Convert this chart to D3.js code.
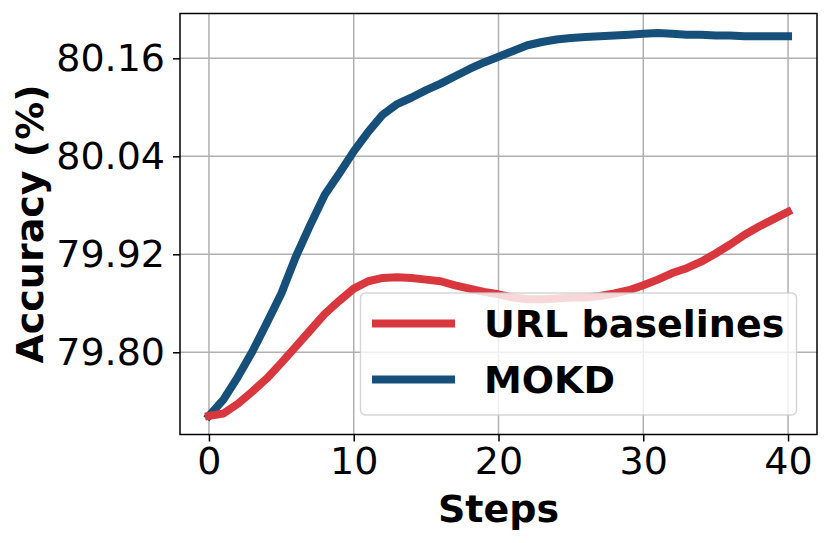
<!DOCTYPE html>
<html>
<head>
<meta charset="utf-8">
<script src="https://cdn.jsdelivr.net/npm/d3@7"></script>
<style>
  body { margin: 0; background: #fff; }
  text { font-family: "DejaVu Sans", sans-serif; }
</style>
</head>
<body>
<svg id="chart"></svg>
<script>
const steps = d3.range(0, 41);
const urlAcc = [
  79.722, 79.725, 79.737, 79.752, 79.768, 79.787, 79.807, 79.827, 79.847, 79.863,
  79.878, 79.887, 79.891, 79.892, 79.891, 79.889, 79.887, 79.882, 79.878, 79.874,
  79.871, 79.867, 79.865, 79.865, 79.866, 79.867, 79.867, 79.869, 79.872, 79.876,
  79.882, 79.889, 79.897, 79.903, 79.911, 79.921, 79.932, 79.944, 79.954, 79.963,
  79.972
];
const mokdAcc = [
  79.722, 79.742, 79.770, 79.801, 79.836, 79.872, 79.917, 79.956, 79.993, 80.019,
  80.046, 80.070, 80.091, 80.104, 80.112, 80.121, 80.129, 80.138, 80.147, 80.155,
  80.162, 80.169, 80.176, 80.180, 80.183, 80.185, 80.186, 80.187, 80.188, 80.189,
  80.190, 80.191, 80.190, 80.189, 80.189, 80.188, 80.188, 80.187, 80.187, 80.187,
  80.187
];
const xTicks = [0, 10, 20, 30, 40];
const yTicks = [79.80, 79.92, 80.04, 80.16];

const W = 830, H = 543;
const plotL = 180, plotR = 817, plotT = 13.5, plotB = 434.5;

const svg = d3.select("#chart").attr("width", W).attr("height", H);

const x = d3.scaleLinear().domain([-2, 42]).range([plotL, plotR]);
const y = d3.scaleLinear().domain([79.6993, 80.2149]).range([plotB, plotT]);

// grid
svg.append("g")
  .selectAll("line")
  .data(xTicks)
  .enter().append("line")
    .attr("x1", d => x(d)).attr("x2", d => x(d))
    .attr("y1", plotT).attr("y2", plotB)
    .attr("stroke", "#b0b0b0").attr("stroke-width", 1.5);
svg.append("g")
  .selectAll("line")
  .data(yTicks)
  .enter().append("line")
    .attr("x1", plotL).attr("x2", plotR)
    .attr("y1", d => y(d)).attr("y2", d => y(d))
    .attr("stroke", "#b0b0b0").attr("stroke-width", 1.5);

// axes
const xAxis = svg.append("g")
  .attr("transform", `translate(0,${plotB})`)
  .call(d3.axisBottom(x).tickValues(xTicks).tickSize(7).tickPadding(6).tickFormat(d3.format("d")));
const yAxis = svg.append("g")
  .attr("transform", `translate(${plotL},0)`)
  .call(d3.axisLeft(y).tickValues(yTicks).tickSize(7).tickPadding(8).tickFormat(d3.format(".2f")));

[xAxis, yAxis].forEach(g => {
  g.select(".domain").remove();
  g.selectAll(".tick line").attr("stroke", "#000").attr("stroke-width", 1.5);
  g.selectAll(".tick text")
    .attr("fill", "#000")
    .style("font-family", "'DejaVu Sans', sans-serif")
    .style("font-size", "38px");
});

// lines
const line = d3.line()
  .x((d, i) => x(steps[i]))
  .y(d => y(d));

svg.append("path")
  .datum(mokdAcc)
  .attr("d", line)
  .attr("fill", "none")
  .attr("stroke", "#16507a")
  .attr("stroke-width", 8)
  .attr("stroke-linecap", "square")
  .attr("stroke-linejoin", "round");

svg.append("path")
  .datum(urlAcc)
  .attr("d", line)
  .attr("fill", "none")
  .attr("stroke", "#d8383d")
  .attr("stroke-width", 8)
  .attr("stroke-linecap", "square")
  .attr("stroke-linejoin", "round");

// frame
svg.append("rect")
  .attr("x", plotL).attr("y", plotT)
  .attr("width", plotR - plotL).attr("height", plotB - plotT)
  .attr("fill", "none").attr("stroke", "#000").attr("stroke-width", 1.5);

// axis labels
svg.append("text")
  .attr("x", (plotL + plotR) / 2).attr("y", 522)
  .attr("text-anchor", "middle")
  .style("font-size", "38px").style("font-weight", "bold")
  .text("Steps");

svg.append("text")
  .attr("transform", `translate(43,${(plotT + plotB) / 2}) rotate(-90)`)
  .attr("text-anchor", "middle")
  .style("font-size", "38px").style("font-weight", "bold")
  .text("Accuracy (%)");

// legend
const legendItems = [
  { name: "URL baselines", color: "#d8383d" },
  { name: "MOKD", color: "#16507a" }
];
const legend = svg.append("g");
legend.append("rect")
  .attr("x", 360.5).attr("y", 293)
  .attr("width", 436).attr("height", 122)
  .attr("rx", 5)
  .attr("fill", "#fff").attr("fill-opacity", 0.8)
  .attr("stroke", "#cccccc").attr("stroke-opacity", 0.8).attr("stroke-width", 1.5);

legendItems.forEach((d, i) => {
  const ly = 323.5 + i * 56;
  legend.append("line")
    .attr("x1", 372).attr("x2", 455)
    .attr("y1", ly).attr("y2", ly)
    .attr("stroke", d.color).attr("stroke-width", 8);
  legend.append("text")
    .attr("x", 484).attr("y", ly + 13.8)
    .style("font-size", "38px").style("font-weight", "bold")
    .text(d.name);
});
</script>
</body>
</html>
